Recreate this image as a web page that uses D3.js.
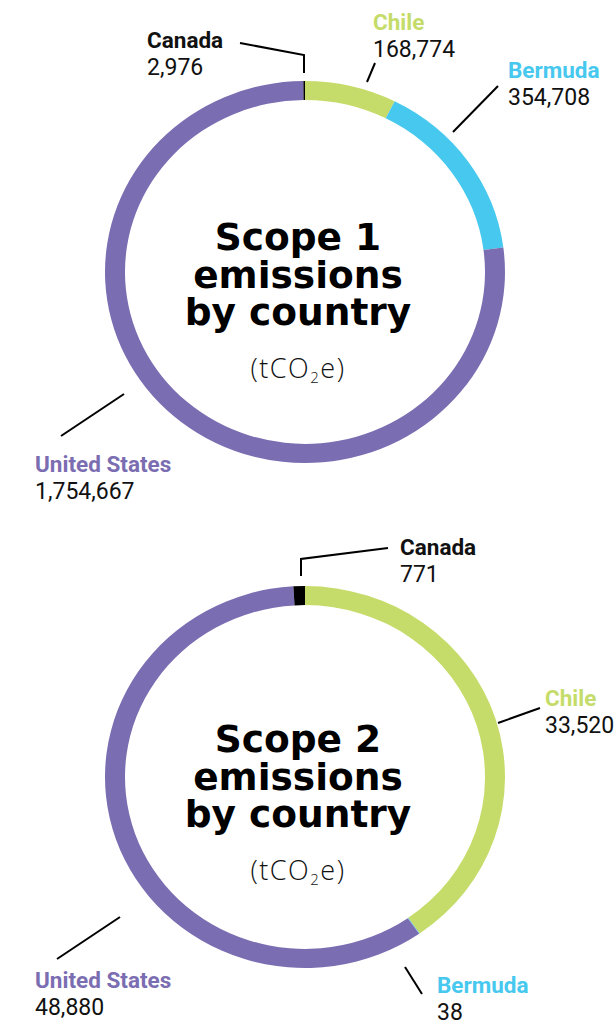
<!DOCTYPE html>
<html>
<head>
<meta charset="utf-8">
<script src="https://cdn.jsdelivr.net/npm/d3@7"></script>
<style>
  html, body { margin: 0; padding: 0; background: #fff; }
  svg { display: block; }
</style>
</head>
<body>
<svg id="chart" width="616" height="1025"></svg>
<script>
// ---- data ----
const countries = ["Chile", "Bermuda", "United States", "Canada"];
const scope1Values = [168774, 354708, 1754667, 2976];
const scope2Values = [33520, 38, 48880, 771];
const countryColors = ["#c5dc6a", "#47c8ee", "#7b6db1", "#000000"];
const labelColors = ["#c5dc6a", "#47c8ee", "#7b6db1", "#111111"];
const titles = [["Scope 1", "emissions", "by country"], ["Scope 2", "emissions", "by country"]];

// ---- layout (annotation placement) ----
const charts = [
  {
    values: scope1Values, cy: 272, titleY: 250,
    labels: {
      "Canada":        { x: 147, y: 48,  line: [[240,43],[304,55],[304,73]] },
      "Chile":         { x: 373, y: 30,  line: [[375,63],[367,82]] },
      "Bermuda":       { x: 508, y: 78,  line: [[498,86],[453,132]] },
      "United States": { x: 35,  y: 472, line: [[124,394],[61,436]] }
    }
  },
  {
    values: scope2Values, cy: 777, titleY: 752,
    labels: {
      "Canada":        { x: 400, y: 555, line: [[388,548],[301,559],[301,576]] },
      "Chile":         { x: 545, y: 706, line: [[540,708],[498,723]] },
      "Bermuda":       { x: 437, y: 993, line: [[405,967],[422,994]] },
      "United States": { x: 35,  y: 988, line: [[120,917],[57,959]] }
    }
  }
];

const svg = d3.select("#chart");
const cx = 305, rx = 200, ringW = 20, yScale = 0.955;
const fmt = d3.format(",");
const pie = d3.pie().sort(null).value(d => d.value);
const arc = d3.arc().innerRadius(rx - ringW).outerRadius(rx);
const lineGen = d3.line();

charts.forEach((c, ci) => {
  const data = countries.map((name, i) => ({ name, value: c.values[i], color: countryColors[i], labelColor: labelColors[i] }));
  const g = svg.append("g").attr("transform", `translate(${cx},${c.cy}) scale(1,${yScale})`);
  g.selectAll("path").data(pie(data)).join("path")
    .attr("d", arc)
    .attr("fill", d => d.data.color);

  // title
  const t = svg.append("g").attr("text-anchor", "middle");
  titles[ci].forEach((line, li) => {
    t.append("text")
      .attr("x", 298).attr("y", c.titleY + li * 37.5)
      .attr("font-family", "'DejaVu Sans', sans-serif")
      .attr("font-size", 37.5).attr("font-weight", 700)
      .attr("fill", "#000")
      .text(line);
  });
  const unit = t.append("text")
    .attr("x", 298).attr("y", c.titleY + 128)
    .attr("font-family", "'Open Sans', 'DejaVu Sans', sans-serif")
    .attr("font-size", 27).attr("font-weight", 300)
    .attr("letter-spacing", 1.5)
    .attr("fill", "#111");
  unit.append("tspan").text("(tCO");
  unit.append("tspan").attr("font-size", 15).attr("dy", 5).text("2");
  unit.append("tspan").attr("dy", -5).text("e)");

  // labels
  data.forEach(d => {
    const L = c.labels[d.name];
    svg.append("path")
      .attr("d", lineGen(L.line))
      .attr("fill", "none").attr("stroke", "#000").attr("stroke-width", 2);
    svg.append("text")
      .attr("x", L.x).attr("y", L.y)
      .attr("font-family", "Roboto, sans-serif").attr("font-size", 22.5).attr("font-weight", 700)
      .attr("fill", d.labelColor)
      .text(d.name);
    svg.append("text")
      .attr("x", L.x).attr("y", L.y + 27)
      .attr("font-family", "Roboto, sans-serif").attr("font-size", 23).attr("font-weight", 400)
      .attr("fill", "#111")
      .text(fmt(d.value));
  });
});
</script>
</body>
</html>
